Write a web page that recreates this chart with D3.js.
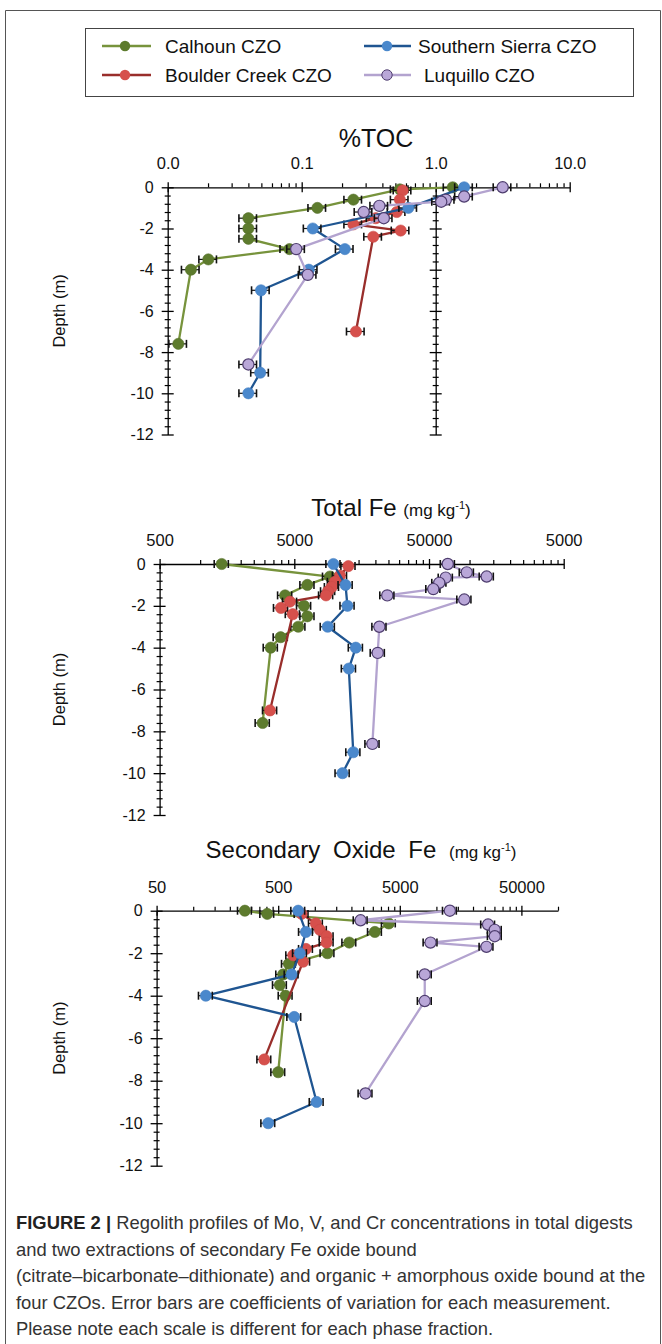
<!DOCTYPE html>
<html>
<head>
<meta charset="utf-8">
<script src="https://cdn.jsdelivr.net/npm/d3@7/dist/d3.min.js"></script>
<style>
  body { margin: 0; background: #fff; }
  svg { display: block; font-family: "Liberation Sans", Arial, sans-serif; }
</style>
</head>
<body>
<svg id="fig" width="662" height="1344"></svg>
<script>
// sites, in legend order
var sites = ["Calhoun CZO", "Boulder Creek CZO", "Southern Sierra CZO", "Luquillo CZO"];
var lineColors = ["#77933c", "#992e2b", "#1f5591", "#b3a3cf"];
var markerFills = ["#5d7b2d", "#d6504c", "#4a88cc", "#b9a7d8"];
var markerStrokes = ["#55712a", "#cc4a46", "#4580c2", "#4e3d6e"];

// %TOC  [depth m, value]
var tocCalhoun = [[0, 1.34], [-0.1, 0.54], [-0.6, 0.243], [-1.0, 0.131], [-1.5, 0.040], [-2.0, 0.040], [-2.5, 0.040], [-3.0, 0.081], [-3.5, 0.0201], [-4.0, 0.0149], [-7.6, 0.0120]];
var tocBoulder = [[-0.15, 0.567], [-0.6, 0.54], [-1.2, 0.512], [-1.5, 0.357], [-1.8, 0.243], [-2.1, 0.548], [-2.4, 0.342], [-7.0, 0.254]];
var tocSierra = [[0, 1.63], [-1.0, 0.625], [-2.0, 0.121], [-3.0, 0.21], [-4.0, 0.113], [-5.0, 0.0497], [-9.0, 0.049], [-10.0, 0.040]];
var tocLuquillo = [[0, 3.16], [-0.45, 1.63], [-0.6, 1.19], [-0.7, 1.1], [-0.9, 0.38], [-1.2, 0.29], [-1.5, 0.41], [-3.0, 0.091], [-4.25, 0.111], [-8.6, 0.040]];

// Total Fe (mg/kg)
var feCalhoun = [[0, 1445], [-0.6, 9200], [-1.0, 6250], [-1.5, 4270], [-2.0, 5900], [-2.5, 6250], [-3.0, 5350], [-3.5, 3960], [-4.0, 3340], [-7.6, 2910]];
var feBoulder = [[-0.1, 12600], [-0.55, 10900], [-0.85, 10000], [-1.1, 9500], [-1.3, 8900], [-1.5, 8600], [-1.8, 4640], [-2.1, 3980], [-2.4, 4870], [-7.0, 3300]];
var feSierra = [[0, 9750], [-1.0, 12000], [-2.0, 12400], [-3.0, 8850], [-4.0, 14300], [-5.0, 12700], [-9.0, 13700], [-10.0, 11400]];
var feLuquillo = [[0, 68900], [-0.4, 95300], [-0.6, 134000], [-0.65, 66500], [-0.9, 59600], [-1.2, 53800], [-1.5, 24500], [-1.7, 91400], [-3.0, 21400], [-4.25, 20800], [-8.6, 19000]];

// Secondary oxide Fe (mg/kg)
var soCalhoun = [[0, 266], [-0.15, 406], [-0.6, 4060], [-1.0, 3120], [-1.5, 1920], [-2.0, 1270], [-2.5, 612], [-3.0, 549], [-3.5, 516], [-4.0, 575], [-7.6, 500]];
var soBoulder = [[-0.15, 778], [-0.6, 1020], [-0.9, 1100], [-1.2, 1250], [-1.5, 1250], [-1.8, 845], [-2.1, 664], [-2.4, 801], [-7.0, 384]];
var soSierra = [[0, 730], [-1.0, 845], [-2.0, 754], [-3.0, 644], [-4.0, 127], [-5.0, 677], [-9.0, 1035], [-10.0, 414]];
var soLuquillo = [[0, 12900], [-0.45, 2380], [-0.65, 26600], [-0.9, 30200], [-1.2, 30200], [-1.5, 8940], [-1.7, 25800], [-3.0, 8020], [-4.25, 8020], [-8.6, 2610]];

// axis ticks
var depthTicks = [0, -2, -4, -6, -8, -10, -12];
var tocTicks = [0.01, 0.1, 1, 10];
var tocTickLabels = ["0.0", "0.1", "1.0", "10.0"];
var feTicks = [500, 5000, 50000, 500000];
var feTickLabels = ["500", "5000", "50000", "5000"];
var soTicks = [50, 500, 5000, 50000];
var soTickLabels = ["50", "500", "5000", "50000"];

// coefficient of variation used for the error bars
var cvToc = 0.15, cvFe = 0.12, cvSo = 0.13;

var svg = d3.select("#fig");

// outer frame
svg.append("path")
  .attr("d", "M5.5,1344 V10.5 H660.5 V1344")
  .attr("fill", "none")
  .attr("stroke", "#555")
  .attr("stroke-width", 1);

// legend
var legendBox = svg.append("rect")
  .attr("x", 85.5).attr("y", 28.5)
  .attr("width", 548).attr("height", 68)
  .attr("fill", "#fff").attr("stroke", "#444").attr("stroke-width", 1);

var legendPos = [
  {x1: 102, x2: 151, mx: 125, tx: 165, y: 46},
  {x1: 102, x2: 151, mx: 125, tx: 165, y: 75},
  {x1: 364, x2: 411, mx: 387, tx: 418, y: 46},
  {x1: 364, x2: 411, mx: 387, tx: 424, y: 75}
];

var legend = svg.append("g")
  .selectAll("g")
  .data(sites)
  .enter()
  .append("g")
    .attr("class", "legend");

legend.append("line")
  .attr("x1", function(d, i) { return legendPos[i].x1; })
  .attr("x2", function(d, i) { return legendPos[i].x2; })
  .attr("y1", function(d, i) { return legendPos[i].y; })
  .attr("y2", function(d, i) { return legendPos[i].y; })
  .attr("stroke", function(d, i) { return lineColors[i]; })
  .attr("stroke-width", 2.5);

legend.append("circle")
  .attr("cx", function(d, i) { return legendPos[i].mx; })
  .attr("cy", function(d, i) { return legendPos[i].y; })
  .attr("r", 5.2)
  .attr("fill", function(d, i) { return markerFills[i]; })
  .attr("stroke", function(d, i) { return i === 3 ? markerStrokes[i] : "none"; })
  .attr("stroke-width", 1);

legend.append("text")
  .attr("x", function(d, i) { return legendPos[i].tx; })
  .attr("y", function(d, i) { return legendPos[i].y + 6.5; })
  .attr("font-size", 19)
  .attr("fill", "#111")
  .text(function(d) { return d; });

// panels
var panels = [
  {series: [tocCalhoun, tocBoulder, tocSierra, tocLuquillo], domain: [0.01, 10],
   ticks: tocTicks, labels: tocTickLabels, cv: cvToc,
   x0: 167.7, x1: 569.7, y0: 187.3, y1: 434.5, extraAxisAt: 1},
  {series: [feCalhoun, feBoulder, feSierra, feLuquillo], domain: [500, 500000],
   ticks: feTicks, labels: feTickLabels, cv: cvFe,
   x0: 159.6, x1: 563.7, y0: 564, y1: 815},
  {series: [soCalhoun, soBoulder, soSierra, soLuquillo], domain: [50, 100000],
   ticks: soTicks, labels: soTickLabels, cv: cvSo,
   x0: 156.6, x1: 558, y0: 910.7, y1: 1165.7}
];

function logMinors(domain) {
  var out = [];
  for (var base = domain[0]; base < domain[1]; base *= 10) {
    for (var k = 2; k <= 9; k++) {
      var v = base * k;
      if (v <= domain[1] * 1.0001) out.push(v);
    }
  }
  return out;
}

var depthMinors = d3.range(0, -12.001, -0.4).filter(function(d) {
  return Math.abs(Math.round(d / 2) * 2 - d) > 0.01;
});

panels.forEach(function(p, pi) {
  var x = d3.scaleLog().domain(p.domain).range([p.x0, p.x1]);
  var y = d3.scaleLinear().domain([0, -12]).range([p.y0, p.y1]);
  var g = svg.append("g").attr("class", "panel-" + pi);

  // top axis: minor ticks
  g.append("g")
    .attr("transform", "translate(0," + p.y0 + ")")
    .call(d3.axisTop(x).tickValues(logMinors(p.domain)).tickFormat("").tickSizeInner(4).tickSizeOuter(0))
    .call(function(a) { a.select(".domain").remove(); })
    .selectAll("line").attr("stroke", "#000").attr("stroke-width", 1.2);

  // top axis: major ticks and labels
  var xa = g.append("g")
    .attr("transform", "translate(0," + p.y0 + ")")
    .call(d3.axisTop(x).tickValues(p.ticks)
      .tickFormat(function(d, i) { return p.labels[i]; })
      .tickSizeInner(5).tickSizeOuter(0).tickPadding(13));
  xa.select(".domain").attr("stroke", "#000").attr("stroke-width", 1.3);
  xa.selectAll(".tick line").attr("y1", 5).attr("stroke", "#000").attr("stroke-width", 1.3);
  xa.selectAll(".tick text").attr("font-size", 16.5).attr("fill", "#111")
    .attr("font-family", "Liberation Sans, Arial, sans-serif");

  // vertical axes
  var axisXs = [p.x0];
  if (p.extraAxisAt) axisXs.push(x(p.extraAxisAt));
  axisXs.forEach(function(ax, k) {
    g.append("g")
      .attr("transform", "translate(" + ax + ",0)")
      .call(d3.axisLeft(y).tickValues(depthMinors).tickFormat("").tickSizeInner(3).tickSizeOuter(0))
      .call(function(a) { a.select(".domain").remove(); })
      .selectAll("line").attr("x1", 3).attr("stroke", "#000").attr("stroke-width", 1.2);

    var ya = g.append("g")
      .attr("transform", "translate(" + ax + ",0)")
      .call(d3.axisLeft(y).tickValues(depthTicks)
        .tickFormat(function(d) { return k === 0 ? String(d) : ""; })
        .tickSizeInner(6).tickSizeOuter(0).tickPadding(8));
    ya.select(".domain").attr("stroke", "#000").attr("stroke-width", 1.3);
    ya.selectAll(".tick line").attr("x1", 6).attr("stroke", "#000").attr("stroke-width", 1.3);
    ya.selectAll(".tick text").attr("font-size", 16).attr("fill", "#111")
      .attr("font-family", "Liberation Sans, Arial, sans-serif");
  });

  // depth label
  g.append("text")
    .attr("transform", "translate(65," + ((p.y0 + p.y1) / 2) + ") rotate(-90)")
    .attr("text-anchor", "middle")
    .attr("font-size", 16.5)
    .attr("fill", "#111")
    .text("Depth (m)");

  // series
  p.series.forEach(function(data, si) {
    var sg = g.append("g").attr("class", "series-" + si);
    sg.append("path")
      .datum(data)
      .attr("fill", "none")
      .attr("stroke", lineColors[si])
      .attr("stroke-width", 2.3)
      .attr("stroke-linejoin", "round")
      .attr("d", d3.line()
        .x(function(d) { return x(d[1]); })
        .y(function(d) { return y(d[0]); }));

    var eb = sg.selectAll(".err")
      .data(data)
      .enter()
      .append("g")
        .attr("class", "err");
    eb.append("line")
      .attr("x1", function(d) { return x(d[1] * (1 - p.cv)); })
      .attr("x2", function(d) { return x(d[1] * (1 + p.cv)); })
      .attr("y1", function(d) { return y(d[0]); })
      .attr("y2", function(d) { return y(d[0]); })
      .attr("stroke", "#111").attr("stroke-width", 1.2);
    [1 - p.cv, 1 + p.cv].forEach(function(f) {
      eb.append("line")
        .attr("x1", function(d) { return x(d[1] * f); })
        .attr("x2", function(d) { return x(d[1] * f); })
        .attr("y1", function(d) { return y(d[0]) - 4; })
        .attr("y2", function(d) { return y(d[0]) + 4; })
        .attr("stroke", "#111").attr("stroke-width", 1.6);
    });

    sg.selectAll("circle")
      .data(data)
      .enter()
      .append("circle")
        .attr("cx", function(d) { return x(d[1]); })
        .attr("cy", function(d) { return y(d[0]); })
        .attr("r", 5.6)
        .attr("fill", markerFills[si])
        .attr("stroke", markerStrokes[si])
        .attr("stroke-width", si === 3 ? 1.2 : 0.6);
  });
});

// panel titles
svg.append("text")
  .attr("x", 376).attr("y", 146.5)
  .attr("text-anchor", "middle")
  .attr("font-size", 25)
  .attr("fill", "#111")
  .text("%TOC");

function unitTitle(cx, by, main, wordSpacing) {
  var t = svg.append("text")
    .attr("x", cx).attr("y", by)
    .attr("text-anchor", "middle")
    .attr("fill", "#111");
  t.append("tspan").attr("font-size", 24).attr("word-spacing", wordSpacing).text(main + "  ");
  t.append("tspan").attr("font-size", 17).text("(mg kg");
  t.append("tspan").attr("font-size", 11).attr("dy", -7).text("-1");
  t.append("tspan").attr("font-size", 17).attr("dy", 7).text(")");
}
unitTitle(391, 516, "Total Fe", 0);
unitTitle(361, 858, "Secondary Oxide Fe", 6);

// caption
var captionLines = [
  "Regolith profiles of Mo, V, and Cr concentrations in total digests",
  "and two extractions of secondary Fe oxide bound",
  "(citrate\u2013bicarbonate\u2013dithionate) and organic + amorphous oxide bound at the",
  "four CZOs. Error bars are coefficients of variation for each measurement.",
  "Please note each scale is different for each phase fraction."
];
var cap = svg.append("g").attr("font-size", 18.4).attr("fill", "#333");
captionLines.forEach(function(line, i) {
  var t = cap.append("text").attr("x", 16).attr("y", 1229 + i * 26.6);
  if (i === 0) {
    t.append("tspan").attr("font-weight", "bold").attr("fill", "#222").text("FIGURE 2 | ");
  }
  t.append("tspan").text(line);
});
</script>
</body>
</html>
